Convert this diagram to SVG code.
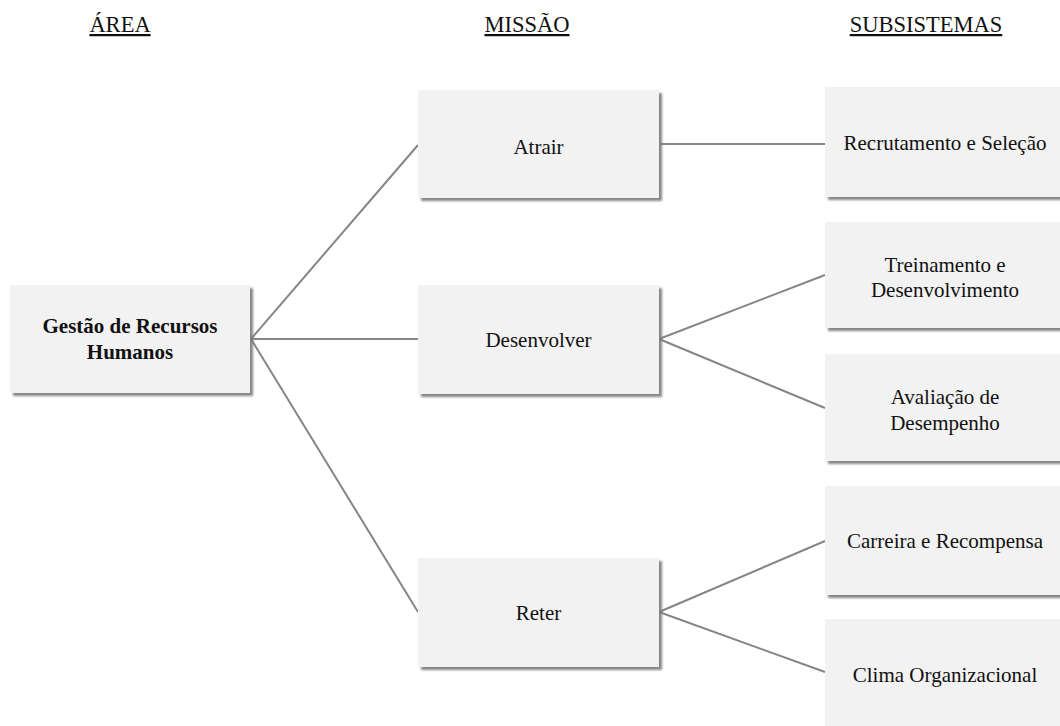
<svg xmlns="http://www.w3.org/2000/svg" width="1060" height="726" viewBox="0 0 1060 726">
<style>
.box{fill:#f2f2f2;filter:url(#sh)}
.t{font-family:"Liberation Serif","Times New Roman",serif;font-size:21px;fill:#111;text-anchor:middle}
.b{font-weight:bold}
.h{text-decoration:underline;font-size:22.5px}
.c{stroke:#858585;stroke-width:2;fill:none}
</style>
<defs>
<filter id="sh" x="-10%" y="-10%" width="120%" height="130%">
<feDropShadow dx="3" dy="3" stdDeviation="1.2" flood-color="#7a7a7a" flood-opacity="0.9"/>
</filter>
</defs>
<rect width="1060" height="726" fill="#fff"/>
<g id="headers">
<text class="t h" x="120" y="32">ÁREA</text>
<text class="t h" x="527" y="32">MISSÃO</text>
<text class="t h" x="926" y="32">SUBSISTEMAS</text>
</g>
<g id="connectors">
<line class="c" x1="251" y1="339" x2="418" y2="145"/>
<line class="c" x1="251" y1="339" x2="418" y2="339"/>
<line class="c" x1="251" y1="339" x2="418" y2="612"/>
<line class="c" x1="659" y1="144" x2="825" y2="144"/>
<line class="c" x1="659" y1="339" x2="825" y2="275"/>
<line class="c" x1="659" y1="339" x2="825" y2="408"/>
<line class="c" x1="659" y1="612" x2="825" y2="541"/>
<line class="c" x1="659" y1="612" x2="825" y2="672"/>
</g>
<g id="gestao">
<rect class="box" x="10" y="285" width="240" height="108"/>
<text class="t b" x="130" y="333">Gestão de Recursos</text>
<text class="t b" x="130" y="359">Humanos</text>
</g>
<g id="atrair">
<rect class="box" x="418" y="90" width="241" height="108"/>
<text class="t" x="538.5" y="154">Atrair</text>
</g>
<g id="desenvolver">
<rect class="box" x="418" y="285" width="241" height="109"/>
<text class="t" x="538.5" y="347">Desenvolver</text>
</g>
<g id="reter">
<rect class="box" x="418" y="558" width="241" height="109"/>
<text class="t" x="538.5" y="620">Reter</text>
</g>
<g id="recrutamento">
<rect class="box" x="825" y="87" width="240" height="110"/>
<text class="t" x="945" y="150">Recrutamento e Seleção</text>
</g>
<g id="treinamento">
<rect class="box" x="825" y="222" width="240" height="106"/>
<text class="t" x="945" y="272">Treinamento e</text>
<text class="t" x="945" y="297">Desenvolvimento</text>
</g>
<g id="avaliacao">
<rect class="box" x="825" y="354" width="240" height="107"/>
<text class="t" x="945" y="404">Avaliação de</text>
<text class="t" x="945" y="430">Desempenho</text>
</g>
<g id="carreira">
<rect class="box" x="825" y="486" width="240" height="109"/>
<text class="t" x="945" y="548">Carreira e Recompensa</text>
</g>
<g id="clima">
<rect class="box" x="825" y="619" width="240" height="110"/>
<text class="t" x="945" y="682">Clima Organizacional</text>
</g>
</svg>
